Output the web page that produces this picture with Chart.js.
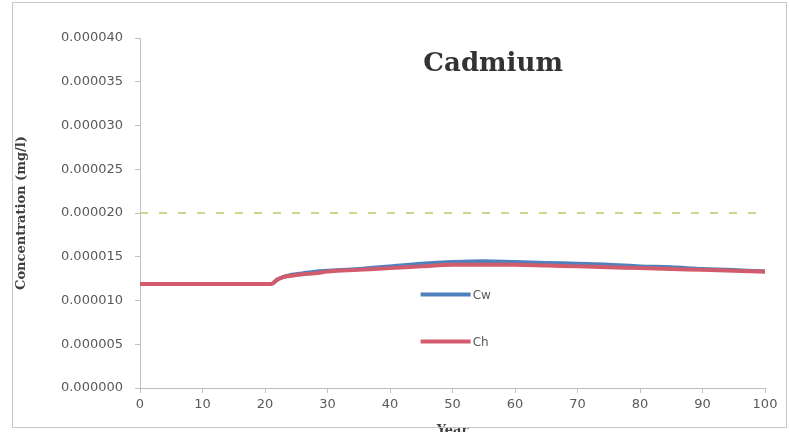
<!DOCTYPE html>
<html lang="en">
<head>
    <meta charset="UTF-8">
    <title>Cadmium</title>
    <script src="https://cdn.jsdelivr.net/npm/chart.js"></script>
    <style>
        html, body { margin: 0; padding: 0; background: #fff; overflow: hidden; }
    </style>
</head>
<body>

    <canvas id="cdChart" width="789" height="438"></canvas>

    <script>
        // data
        const years = [0, 5, 10, 15, 20, 21, 22, 23, 24, 25, 26, 28, 30, 35, 40, 45, 50, 55, 60, 65, 70, 75, 80, 85, 90, 95, 100];
        const cw = [0.0000119, 0.0000119, 0.0000119, 0.0000119, 0.0000119, 0.0000119, 0.0000124, 0.0000127, 0.0000129, 0.0000130, 0.0000131, 0.0000133, 0.0000134,
                    0.0000136, 0.0000139, 0.0000142, 0.0000144, 0.0000145, 0.0000144, 0.0000143, 0.0000142, 0.0000141, 0.0000139, 0.0000138, 0.0000136, 0.0000135, 0.0000133];
        const ch = [0.0000119, 0.0000119, 0.0000119, 0.0000119, 0.0000119, 0.0000119, 0.0000124, 0.0000127, 0.0000128, 0.0000129, 0.0000130, 0.0000131, 0.0000133,
                    0.0000135, 0.0000137, 0.0000139, 0.0000141, 0.0000141, 0.0000141, 0.0000140, 0.0000139, 0.0000138, 0.0000137, 0.0000136, 0.0000135, 0.0000134, 0.0000133];
        const limitYears = [0, 100];
        const limit = [0.00002, 0.00002];

        const toXY = (xs, ys) => xs.map((x, i) => ({ x: x, y: ys[i] }));

        // legend and title drawn inside the plot, like the original
        const innerLegend = {
            id: 'innerLegend',
            afterDraw(chart) {
                const c = chart.ctx, a = chart.chartArea;
                const items = chart.data.datasets.filter(d => d.showInLegend);
                c.save();
                items.forEach((d, i) => {
                    const x = a.left + 0.449 * (a.right - a.left);
                    const y = a.top + 0.733 * (a.bottom - a.top) + i * 47;
                    c.strokeStyle = d.borderColor;
                    c.lineWidth = 4;
                    c.beginPath();
                    c.moveTo(x, y);
                    c.lineTo(x + 50, y);
                    c.stroke();
                    c.fillStyle = '#595959';
                    c.font = '12px "DejaVu Sans"';
                    c.textBaseline = 'middle';
                    c.fillText(d.label, x + 52, y + 1);
                });
                c.fillStyle = '#333333';
                c.font = 'bold 26px "DejaVu Serif"';
                c.textAlign = 'center';
                c.textBaseline = 'middle';
                c.fillText('Cadmium', a.left + 0.565 * (a.right - a.left), 64);
                // outer frame
                c.strokeStyle = '#c8c8c8';
                c.lineWidth = 1;
                c.strokeRect(12.5, 2.5, 774, 425);
                c.restore();
            }
        };

        const ctx = document.getElementById('cdChart').getContext('2d');

        new Chart(ctx, {
            type: 'line',
            data: {
                datasets: [
                    {
                        label: 'Cw',
                        data: toXY(years, cw),
                        borderColor: '#4f81bd',
                        borderWidth: 4,
                        pointRadius: 0,
                        cubicInterpolationMode: 'monotone',
                        order: 2,
                        showInLegend: true
                    },
                    {
                        label: 'Ch',
                        data: toXY(years, ch),
                        borderColor: '#d25c6c',
                        borderWidth: 4,
                        pointRadius: 0,
                        cubicInterpolationMode: 'monotone',
                        order: 1,
                        showInLegend: true
                    },
                    {
                        label: 'Limit',
                        data: toXY(limitYears, limit),
                        borderColor: '#c8d88f',
                        borderWidth: 2,
                        borderDash: [8, 11],
                        pointRadius: 0,
                        order: 3,
                        showInLegend: false
                    }
                ]
            },
            options: {
                responsive: false,
                animation: false,
                layout: { padding: { top: 38, right: 24, left: 14, bottom: 0 } },
                plugins: {
                    legend: { display: false },
                    tooltip: { enabled: false }
                },
                scales: {
                    x: {
                        type: 'linear',
                        min: 0,
                        max: 100,
                        ticks: { stepSize: 10, color: '#595959', font: { family: 'DejaVu Sans', size: 13 }, padding: 4 },
                        grid: { drawOnChartArea: false, color: '#bfbfbf', tickLength: 5 },
                        border: { color: '#bfbfbf' },
                        title: { display: true, text: 'Year', color: '#404040', font: { family: 'DejaVu Serif', size: 13, weight: 'bold' }, padding: 0 },
                        afterFit: s => { s.height = 50; }
                    },
                    y: {
                        min: 0,
                        max: 0.00004,
                        ticks: {
                            stepSize: 0.000005,
                            color: '#595959',
                            font: { family: 'DejaVu Sans', size: 13 },
                            padding: 12,
                            callback: v => v.toFixed(6)
                        },
                        grid: { drawOnChartArea: false, color: '#bfbfbf', tickLength: 5 },
                        border: { color: '#bfbfbf' },
                        title: { display: true, text: 'Concentration (mg/l)', color: '#404040', font: { family: 'DejaVu Serif', size: 13, weight: 'bold' }, padding: { top: 0, bottom: 0 } },
                        afterFit: s => { s.width = 126; }
                    }
                }
            },
            plugins: [innerLegend]
        });
    </script>

</body>
</html>
